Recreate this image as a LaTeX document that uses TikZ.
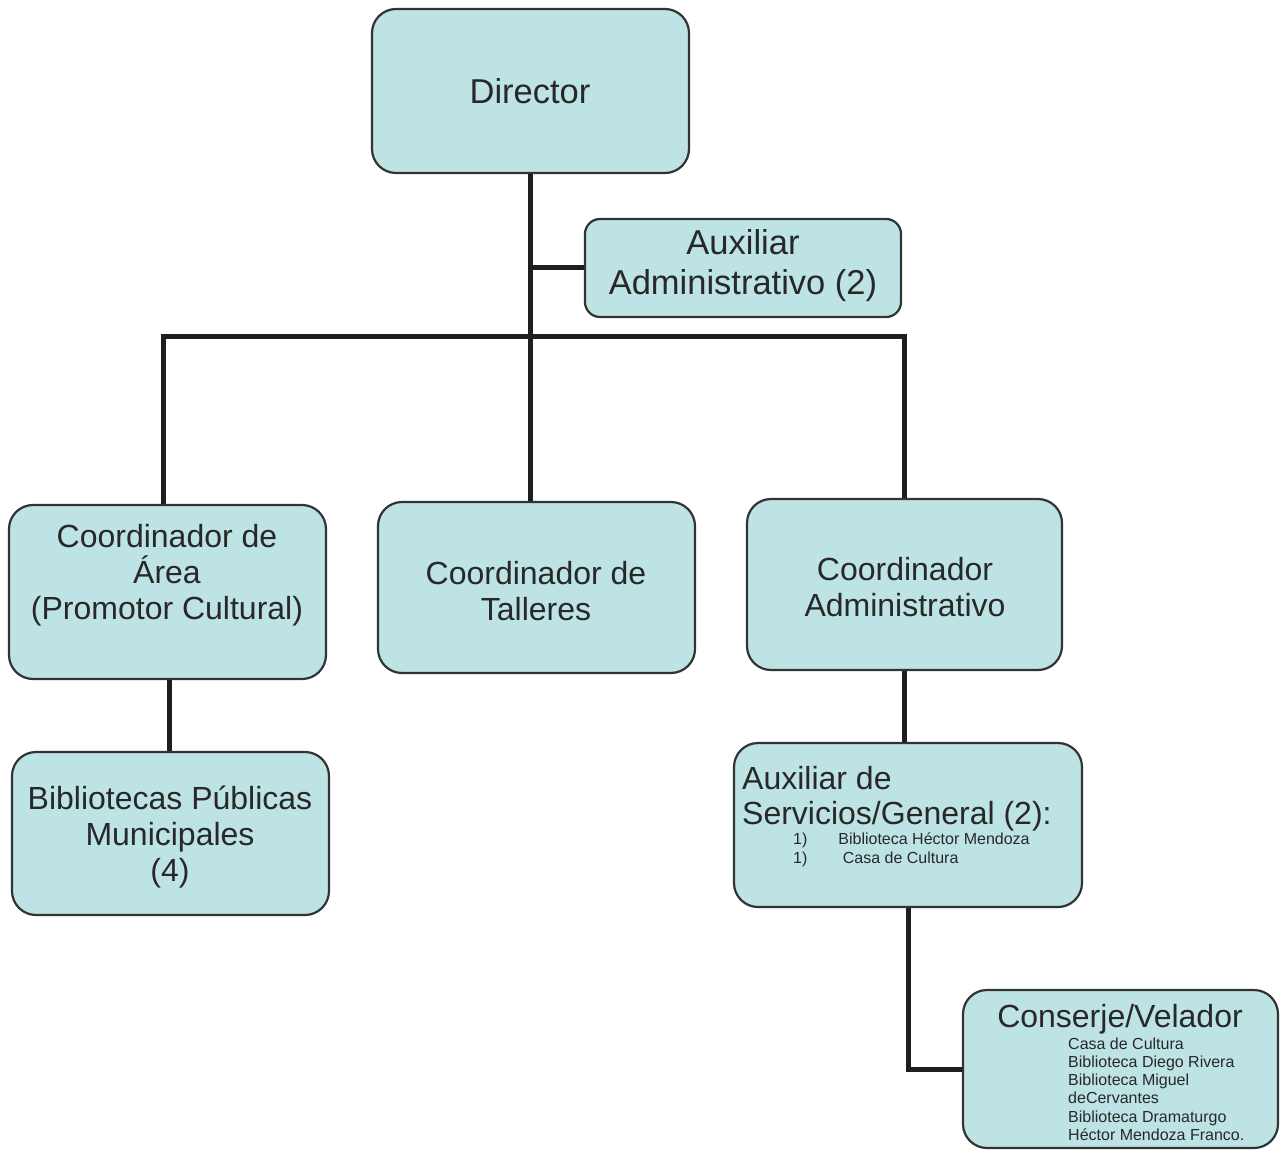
\documentclass[tikz,border=0pt]{standalone}
\usepackage{fontspec}
\setmainfont{Liberation Sans}
\usetikzlibrary{backgrounds}
\definecolor{boxfill}{RGB}{190,227,229}
\definecolor{boxline}{RGB}{50,52,52}
\definecolor{ink}{RGB}{40,40,40}
\definecolor{wirecol}{RGB}{30,30,30}
\tikzset{
  box/.style={draw=boxline, line width=2.2pt, fill=boxfill, rounded corners=24pt, inner sep=0pt},
  smallbox/.style={box, rounded corners=15pt},
  bigtxt/.style={text=ink, align=center, inner sep=0pt, font=\fontsize{32}{36}\selectfont},
  largetxt/.style={bigtxt, font=\fontsize{34.5}{40}\selectfont},
  smalltxt/.style={text=ink, inner sep=0pt, font=\fontsize{16}{19}\selectfont},
  wire/.style={draw=wirecol, line width=5pt},
}
\begin{document}
\begin{tikzpicture}[x=1pt,y=-1pt]
\useasboundingbox (0,0) rectangle (1283,1150);

% boxes
\node[box, minimum width=317pt, minimum height=164pt] (dir) at (530.5,91) {};
\node[smallbox, minimum width=316pt, minimum height=98pt] (aux) at (743,268) {};
\node[box, minimum width=317pt, minimum height=174pt] (area) at (167.5,592) {};
\node[box, minimum width=317pt, minimum height=171pt] (tall) at (536.5,587.5) {};
\node[box, minimum width=315pt, minimum height=171pt] (adm) at (904.5,584.5) {};
\node[box, minimum width=317pt, minimum height=163pt] (bib) at (170.5,833.5) {};
\node[box, minimum width=348pt, minimum height=164pt] (sv) at (908,825) {};
\node[box, minimum width=315pt, minimum height=158pt] (con) at (1120.5,1069) {};

% connectors, behind the boxes
\begin{scope}[on background layer]
\fill[white] (0,0) rectangle (1283,1150);
\coordinate (busL) at (163,337);
\coordinate (areaLink) at (169,0);
\draw[wire] (dir.south) -- (dir.south |- tall.north);
\draw[wire] (dir.south |- aux.west) -- (aux.west);
\draw[wire] (busL |- area.north) -- (busL) -| (adm.north);
\draw[wire] (areaLink |- area.south) -- (areaLink |- bib.north);
\draw[wire] (adm.south) -- (adm.south |- sv.north);
\draw[wire] (sv.south) |- (con.west);
\end{scope}

% labels
\node[largetxt] (dirT) at (530,91) {Director};
\node[largetxt] (auxT) at (743,266) {Auxiliar\\Administrativo (2)};
\node[bigtxt] (areaT) at (167,575) {Coordinador de\\Área\\(Promotor Cultural)};
\node[bigtxt] (tallT) at (536,591) {Coordinador de\\Talleres};
\node[bigtxt] (admT) at (905,587) {Coordinador\\Administrativo};
\node[bigtxt] (bibT) at (170,837) {Bibliotecas Públicas\\Municipales\\(4)};

\node[bigtxt, anchor=base west] (sv1) at (742,789) {Auxiliar de};
\node[bigtxt, anchor=base west] (sv2) at (742,824) {Servicios/General (2):};
\node[smalltxt, anchor=north west] (svList) at (793,830.7)
  {\begin{tabular}{@{}l@{\hspace{31pt}}l@{}}1) & Biblioteca Héctor Mendoza\\1) & \ Casa de Cultura\end{tabular}};

\node[bigtxt, anchor=base] (conT) at (1120,1027.5) {Conserje/Velador};
\node[smalltxt, anchor=north west, font=\fontsize{16}{18.2}\selectfont] (conList) at (1068,1036.3)
  {\begin{tabular}{@{}l@{}}Casa de Cultura\\Biblioteca Diego Rivera\\Biblioteca Miguel\\deCervantes\\Biblioteca Dramaturgo\\Héctor Mendoza Franco.\end{tabular}};
\end{tikzpicture}
\end{document}
